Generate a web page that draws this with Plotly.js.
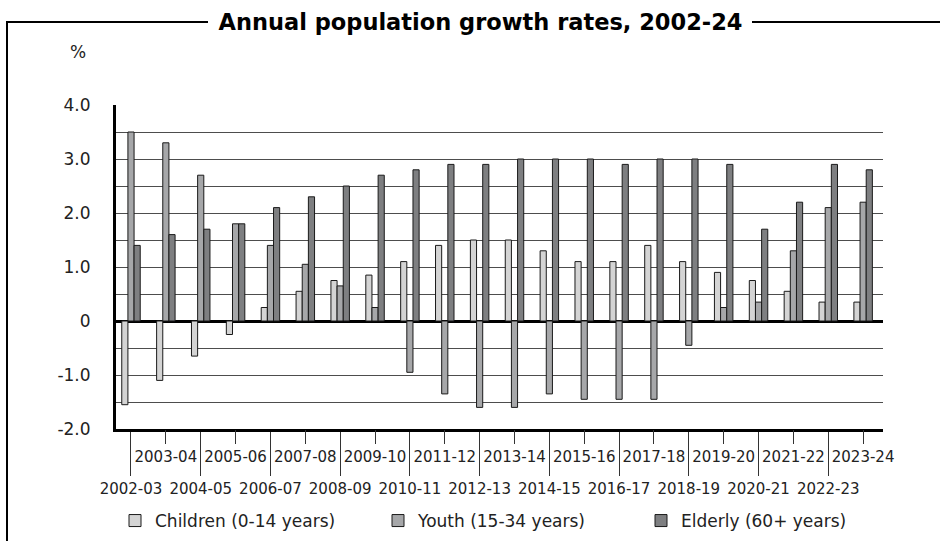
<!DOCTYPE html>
<html>
<head>
<meta charset="utf-8">
<script src="https://cdn.plot.ly/plotly-3.0.1.min.js"></script>
<style>html,body{margin:0;padding:0;background:#fff;}#chart{width:940px;height:541px;}</style>
</head>
<body>
<div id="chart"></div>
<script>
const categories = ["2002-03","2003-04","2004-05","2005-06","2006-07","2007-08","2008-09","2009-10","2010-11","2011-12","2012-13","2013-14","2014-15","2015-16","2016-17","2017-18","2018-19","2019-20","2020-21","2021-22","2022-23","2023-24"];
const children = [-1.55,-1.1,-0.65,-0.25,0.25,0.55,0.75,0.85,1.1,1.4,1.5,1.5,1.3,1.1,1.1,1.4,1.1,0.9,0.75,0.55,0.35,0.35];
const youth = [3.5,3.3,2.7,1.8,1.4,1.05,0.65,0.25,-0.95,-1.35,-1.6,-1.6,-1.35,-1.45,-1.45,-1.45,-0.45,0.25,0.35,1.3,2.1,2.2];
const elderly = [1.4,1.6,1.7,1.8,2.1,2.3,2.5,2.7,2.8,2.9,2.9,3.0,3.0,3.0,2.9,3.0,3.0,2.9,1.7,2.2,2.9,2.8];
const seriesNames = ["Children (0-14 years)","Youth (15-34 years)","Elderly (60+ years)"];
const yTickVals = [-2,-1.5,-1,-0.5,0,0.5,1,1.5,2,2.5,3,3.5,4];
const yTickText = ["-2.0","","-1.0","","0","","1.0","","2.0","","3.0","","4.0"];
const chartTitle = "Annual population growth rates, 2002-24";
const unitLabel = "%";

const idx = categories.map((c, i) => i);
const evenIdx = idx.filter(i => i % 2 === 0);
const oddIdx = idx.filter(i => i % 2 === 1);

const FONT = "DejaVu Sans";
const colors = ["#d4d4d4", "#a6a7a9", "#7e7f81"];
const values = [children, youth, elderly];

const traces = values.map((v, k) => ({
  type: "bar",
  name: seriesNames[k],
  x: idx,
  y: v,
  xaxis: "x",
  yaxis: "y",
  marker: {color: colors[k], line: {color: "#1a1a1a", width: 1}},
  hoverinfo: "skip"
}));

// plot box in px for frame shapes
const L = 116, R = 883, T = 105, B = 429;
const W = R - L, H = B - T;
const xp = px => (px - L) / W;
const yp = py => (B - py) / H;

const frameLine = {color: "#000", width: 2};
const shapes = [
  {type: "line", xref: "paper", yref: "paper", x0: xp(7), x1: xp(208), y0: yp(22), y1: yp(22), line: frameLine},
  {type: "line", xref: "paper", yref: "paper", x0: xp(752), x1: xp(945), y0: yp(22), y1: yp(22), line: frameLine},
  {type: "line", xref: "paper", yref: "paper", x0: xp(7), x1: xp(7), y0: yp(21), y1: yp(550), line: frameLine}
];

const xRange = [-0.43, categories.length - 0.43];

const layout = {
  width: 940,
  height: 541,
  margin: {l: L, r: 940 - R, t: T, b: 541 - B, pad: 0, autoexpand: false},
  paper_bgcolor: "#fff",
  plot_bgcolor: "#fff",
  font: {family: FONT, color: "#222"},
  title: {
    text: chartTitle,
    font: {family: FONT, size: 22.5, weight: "bold", color: "#000"},
    x: 480.5 / 940, xanchor: "center", xref: "container",
    y: (541 - 22) / 541, yanchor: "middle", yref: "container"
  },
  barmode: "group",
  bargap: 0.47,
  bargroupgap: 0,
  showlegend: true,
  legend: {
    orientation: "h",
    x: xp(115), xanchor: "left",
    y: yp(521), yanchor: "middle",
    font: {family: FONT, size: 17, color: "#222"},
    entrywidth: 218,
    traceorder: "normal",
    itemclick: false
  },
  xaxis: {
    type: "linear",
    range: xRange,
    tickmode: "array",
    tickvals: evenIdx,
    ticktext: evenIdx.map(i => categories[i]),
    ticks: "outside",
    ticklen: 44,
    tickwidth: 1,
    tickcolor: "#333",
    tickfont: {family: FONT, size: 15, color: "#222"},
    showgrid: false,
    zeroline: false,
    showline: true,
    linecolor: "#000",
    linewidth: 3,
    fixedrange: true
  },
  xaxis2: {
    type: "linear",
    overlaying: "x",
    anchor: "y",
    side: "bottom",
    range: xRange,
    tickmode: "array",
    tickvals: oddIdx,
    ticktext: oddIdx.map(i => categories[i]),
    ticks: "outside",
    ticklen: 14,
    tickwidth: 1,
    tickcolor: "#333",
    tickfont: {family: FONT, size: 15, color: "#222"},
    showgrid: false,
    zeroline: false,
    showline: false,
    fixedrange: true
  },
  yaxis: {
    range: [-2, 4],
    tickmode: "array",
    tickvals: yTickVals,
    ticktext: yTickText,
    ticks: "",
    ticklabelstandoff: 19,
    tickfont: {family: FONT, size: 17, color: "#222"},
    showgrid: true,
    gridcolor: "#4d4d4d",
    gridwidth: 1,
    zeroline: true,
    zerolinecolor: "#000",
    zerolinewidth: 3,
    showline: true,
    linecolor: "#000",
    linewidth: 3,
    fixedrange: true
  },
  shapes: shapes,
  annotations: [
    {text: unitLabel, xref: "paper", yref: "paper", x: xp(78), y: yp(52), xanchor: "center", yanchor: "middle",
     showarrow: false, font: {family: FONT, size: 17, color: "#222"}}
  ]
};

// empty helper trace so the second (odd-label) x axis is drawn
traces.push({type: "scatter", x: [], y: [], xaxis: "x2", yaxis: "y", showlegend: false, hoverinfo: "skip"});

Plotly.newPlot("chart", traces, layout, {displayModeBar: false, staticPlot: true});
</script>
</body>
</html>
